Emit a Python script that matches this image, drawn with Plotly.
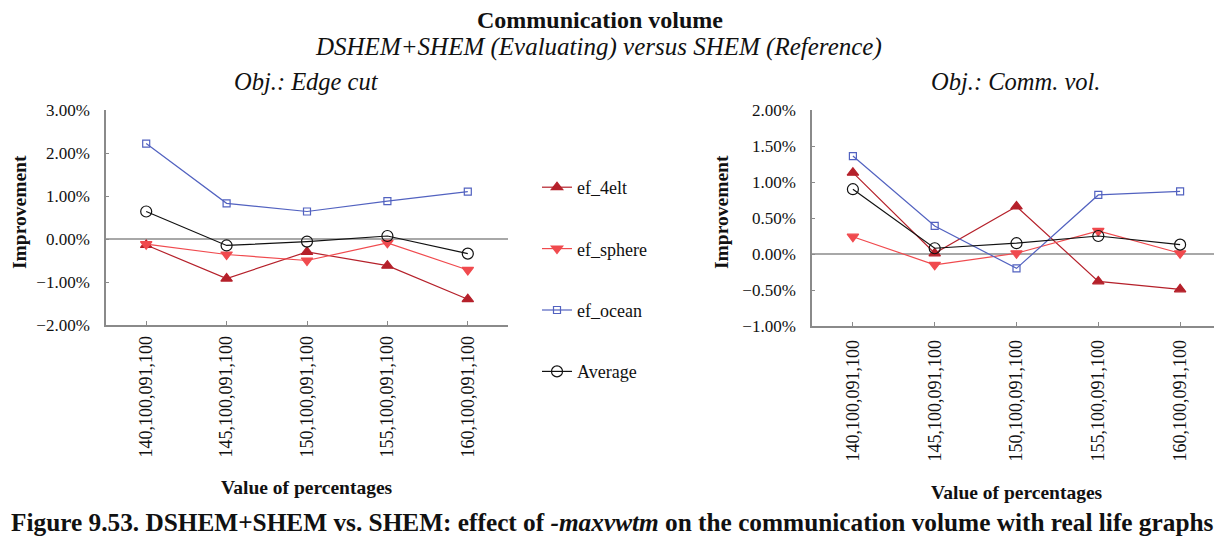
import plotly.graph_objects as go

categories = ["140,100,091,100", "145,100,091,100", "150,100,091,100",
              "155,100,091,100", "160,100,091,100"]

# Obj.: Edge cut (improvement, %)
edge_4elt = [-0.14, -0.92, -0.30, -0.62, -1.40]
edge_sphere = [-0.12, -0.36, -0.50, -0.09, -0.72]
edge_ocean = [2.22, 0.83, 0.64, 0.88, 1.10]
edge_avg = [0.64, -0.15, -0.06, 0.07, -0.34]

# Obj.: Comm. vol. (improvement, %)
comm_4elt = [1.13, 0.01, 0.66, -0.38, -0.49]
comm_sphere = [0.24, -0.15, 0.01, 0.32, 0.01]
comm_ocean = [1.36, 0.39, -0.20, 0.82, 0.87]
comm_avg = [0.90, 0.08, 0.15, 0.25, 0.13]

series_names = ["ef_4elt", "ef_sphere", "ef_ocean", "Average"]
edge_tick_vals = [3, 2, 1, 0, -1, -2]
comm_tick_vals = [2, 1.5, 1, 0.5, 0, -0.5, -1]


def pct_label(v):
    s = f"{abs(v):.2f}%"
    return ("\u2212" + s) if v < 0 else s


SERIF = "Liberation Serif"
OFF = 8            # the page's default body margin
W, H = 1214, 530   # figure size so that it fills the 1222x538 window

styles = {
    "ef_4elt": dict(color="#b5202a", symbol="triangle-up", size=10, lw=1.2),
    "ef_sphere": dict(color="#f04a4e", symbol="triangle-down", size=10, lw=1.2),
    "ef_ocean": dict(color="#5262c0", symbol="square-open", size=7, lw=1.2),
    "Average": dict(color="#111111", symbol="circle-open", size=11, lw=1.2),
}

fig = go.Figure()

for name, vals in zip(series_names, [edge_4elt, edge_sphere, edge_ocean, edge_avg]):
    s = styles[name]
    fig.add_trace(go.Scatter(
        x=categories, y=vals, name=name, mode="lines+markers",
        line=dict(color=s["color"], width=s["lw"]),
        marker=dict(symbol=s["symbol"], size=s["size"], color=s["color"],
                    line=dict(color=s["color"], width=1.2)),
        legendgroup=name, showlegend=True, xaxis="x", yaxis="y"))

for name, vals in zip(series_names, [comm_4elt, comm_sphere, comm_ocean, comm_avg]):
    s = styles[name]
    fig.add_trace(go.Scatter(
        x=categories, y=vals, name=name, mode="lines+markers",
        line=dict(color=s["color"], width=s["lw"]),
        marker=dict(symbol=s["symbol"], size=s["size"], color=s["color"],
                    line=dict(color=s["color"], width=1.2)),
        legendgroup=name, showlegend=False, xaxis="x2", yaxis="y2"))


def px_x(p):
    return (p - OFF) / W


def px_y(p):
    return 1 - (p - OFF) / H


axis_common = dict(showgrid=False, showline=True, linecolor="#8a8a8a", linewidth=1.5,
                   automargin=False, ticks="inside", tickcolor="#8a8a8a",
                   tickfont=dict(family=SERIF, size=17, color="#111111"))
xfont = dict(family=SERIF, size=18, color="#111111")

fig.update_layout(
    width=W, height=H, autosize=False,
    margin=dict(l=0, r=0, t=0, b=0, autoexpand=False),
    paper_bgcolor="white", plot_bgcolor="white",
    font=dict(family=SERIF, color="#111111"),
    xaxis=dict(domain=[px_x(106), px_x(508)], anchor="y", type="category",
               range=[-0.5, 4.5], tickangle=-90, ticklen=4, ticklabelstandoff=2,
               zeroline=False, **{**axis_common, "tickfont": xfont}),
    yaxis=dict(domain=[px_y(325), px_y(110)], anchor="x", range=[-2, 3],
               tickmode="array", tickvals=edge_tick_vals,
               ticktext=[pct_label(v) for v in edge_tick_vals],
               ticklen=3, ticklabelstandoff=11,
               zeroline=True, zerolinecolor="#a8a8a8", zerolinewidth=1.5,
               **axis_common),
    xaxis2=dict(domain=[px_x(812), px_x(1221)], anchor="y2", type="category",
                range=[-0.5, 4.5], tickangle=-90, ticklen=4, ticklabelstandoff=5,
                zeroline=False, **{**axis_common, "tickfont": xfont}),
    yaxis2=dict(domain=[px_y(326), px_y(110)], anchor="x2", range=[-1, 2],
                tickmode="array", tickvals=comm_tick_vals,
                ticktext=[pct_label(v) for v in comm_tick_vals],
                ticklen=3, ticklabelstandoff=11,
                zeroline=True, zerolinecolor="#a8a8a8", zerolinewidth=1.5,
                **axis_common),
    legend=dict(x=px_x(537), y=px_y(169), xanchor="left", yanchor="top",
                font=dict(family=SERIF, size=18, color="#111111"),
                tracegroupgap=35, bgcolor="rgba(0,0,0,0)", itemwidth=30),
    showlegend=True,
)

annots = [
    dict(text="<b>Communication volume</b>", x=600, y=20, size=24),
    dict(text="<i>DSHEM+SHEM (Evaluating) versus SHEM (Reference)</i>", x=598, y=47, size=25),
    dict(text="<i>Obj.: Edge cut</i>", x=306, y=82, size=24.5),
    dict(text="<i>Obj.: Comm. vol.</i>", x=1015, y=82, size=24.5),
    dict(text="<b>Value of percentages</b>", x=307, y=487, size=19.5),
    dict(text="<b>Value of percentages</b>", x=1017, y=492, size=19.5),
]
for a in annots:
    fig.add_annotation(text=a["text"], x=px_x(a["x"]), y=px_y(a["y"]),
                       xref="paper", yref="paper",
                       xanchor="center", yanchor="middle", showarrow=False,
                       font=dict(family=SERIF, size=a["size"], color="#111111"))

for xp, yp in [(19, 212), (721, 212)]:
    fig.add_annotation(text="<b>Improvement</b>", x=px_x(xp), y=px_y(yp),
                       xref="paper", yref="paper", xanchor="center", yanchor="middle",
                       textangle=-90, showarrow=False,
                       font=dict(family=SERIF, size=19.5, color="#111111"))

fig.add_annotation(
    text="<b>Figure 9.53. DSHEM+SHEM vs. SHEM: effect of <i>-maxvwtm</i> on the communication volume with real life graphs</b>",
    x=px_x(9), y=0, xref="paper", yref="paper", xanchor="left", yanchor="bottom",
    showarrow=False, font=dict(family=SERIF, size=25.3, color="#111111"))

fig.write_html("out.html")
